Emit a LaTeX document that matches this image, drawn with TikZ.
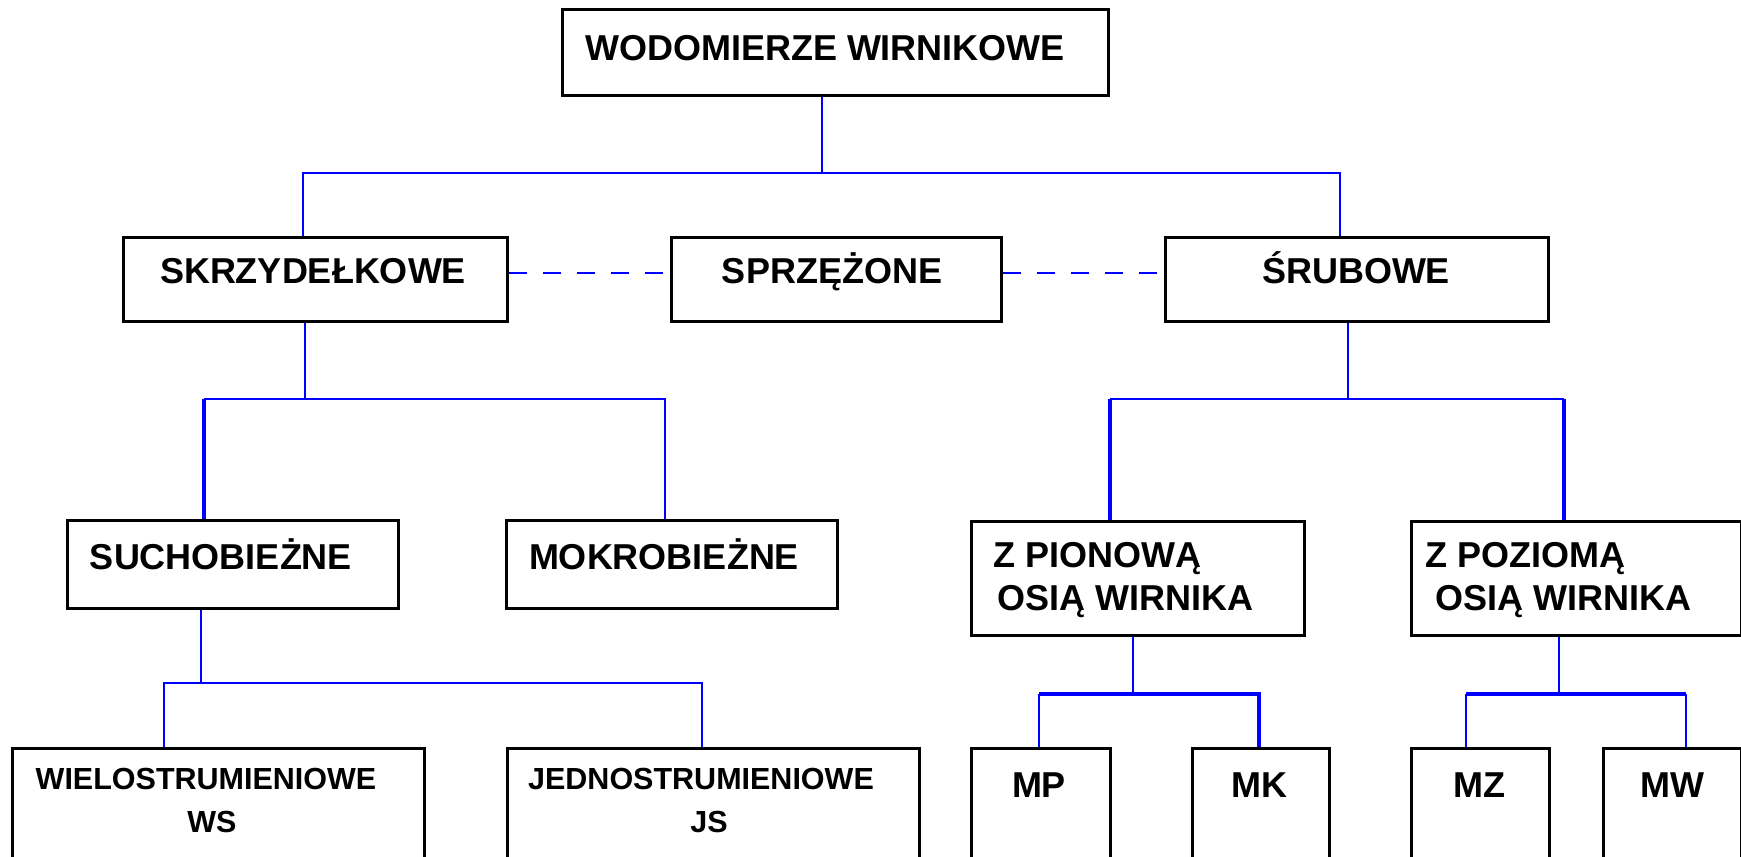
\documentclass[tikz,border=0pt]{standalone}
\usepackage{fontspec}
\setmainfont{Liberation Sans}
\definecolor{lineblue}{RGB}{0,0,255}
\tikzset{
  box/.style={draw=black, line width=1.25pt, fill=white, inner sep=0pt, anchor=north west},
  lbl/.style={inner sep=0pt, anchor=base, font=\fontsize{18pt}{21pt}\selectfont\bfseries},
  lblw/.style={inner sep=0pt, anchor=base west, font=\fontsize{18pt}{21pt}\selectfont\bfseries},
  slbl/.style={inner sep=0pt, anchor=base, font=\fontsize{15.25pt}{18pt}\selectfont\bfseries},
  conn/.style={draw=lineblue, line width=1.1pt},
  heavy/.style={draw=lineblue, line width=2pt},
  dashconn/.style={draw=lineblue, line width=1.1pt, dash pattern=on 9pt off 8pt},
}
\begin{document}
\begin{tikzpicture}[x=0.5pt, y=-0.5pt]
\useasboundingbox (0,0) rectangle (1741,857);
\clip (0,0) rectangle (1741,857);
% boxes
\node[box, minimum width=273pt, minimum height=43pt] (T) at (561,8) {};
\node[box, minimum width=192pt, minimum height=42pt] (SKR) at (122,236) {};
\node[box, minimum width=165pt, minimum height=42pt] (SPR) at (670,236) {};
\node[box, minimum width=191.5pt, minimum height=42pt] (SRU) at (1164,236) {};
\node[box, minimum width=165.5pt, minimum height=44pt] (SUCH) at (66,519) {};
\node[box, minimum width=165.5pt, minimum height=44pt] (MOK) at (505,519) {};
\node[box, minimum width=166.5pt, minimum height=57pt] (ZPION) at (970,520) {};
\node[box, minimum width=165pt, minimum height=57pt] (ZPOZ) at (1410,520) {};
\node[box, minimum width=206pt, minimum height=70pt] (WIEL) at (11,747) {};
\node[box, minimum width=206pt, minimum height=70pt] (JEDN) at (506,747) {};
\node[box, minimum width=69.5pt, minimum height=70pt] (MP) at (970,747) {};
\node[box, minimum width=68.5pt, minimum height=70pt] (MK) at (1191,747) {};
\node[box, minimum width=69pt, minimum height=70pt] (MZ) at (1410,747) {};
\node[box, minimum width=69pt, minimum height=70pt] (MW) at (1602,747) {};
% labels
\node[lbl] (Tt) at (825,60) {WODOMIERZE WIRNIKOWE};
\node[lbl] (SKRt) at (313,283) {SKRZYDEŁKOWE};
\node[lbl] (SPRt) at (832,283) {SPRZĘŻONE};
\node[lbl] (SRUt) at (1356,283) {ŚRUBOWE};
\node[lbl] (SUCHt) at (221,569) {SUCHOBIEŻNE};
\node[lbl] (MOKt) at (664,569) {MOKROBIEŻNE};
\node[lblw] (ZPIONa) at (993,567) {Z PIONOWĄ};
\node[lblw] (ZPIONb) at (997,610) {OSIĄ WIRNIKA};
\node[lblw] (ZPOZa) at (1425,567) {Z POZIOMĄ};
\node[lblw] (ZPOZb) at (1435,610) {OSIĄ WIRNIKA};
\node[slbl] (WIELa) at (206,789) {WIELOSTRUMIENIOWE};
\node[slbl] (WIELb) at (212,832) {WS};
\node[slbl] (JEDNa) at (701,789) {JEDNOSTRUMIENIOWE};
\node[slbl] (JEDNb) at (709,832) {JS};
\node[lbl] (MPt) at (1039,797) {MP};
\node[lbl] (MKt) at (1259,797) {MK};
\node[lbl] (MZt) at (1479,797) {MZ};
\node[lbl] (MWt) at (1672,797) {MW};
% junction coordinates
\coordinate (a0) at (822,173); \coordinate (a1) at (303,173); \coordinate (a2) at (1340,173);
\coordinate (b0) at (305,399); \coordinate (b1) at (204,399); \coordinate (b2) at (665,399);
\coordinate (c0) at (201,683); \coordinate (c1) at (164,683); \coordinate (c2) at (702,683);
\coordinate (d0) at (1348,399); \coordinate (d1) at (1110,399); \coordinate (d2) at (1564,399);
\coordinate (e0) at (1133,694); \coordinate (e1) at (1039,694); \coordinate (e2) at (1259,694);
\coordinate (f0) at (1559,694); \coordinate (f1) at (1466,694); \coordinate (f2) at (1686,694);
\coordinate (g) at (0,273);
% connectors
\draw[conn] (a0 |- T.south) -- (a0);
\draw[conn] (a1 |- SKR.north) -- (a1) -- (a2) -- (a2 |- SRU.north);
\draw[conn] (b0 |- SKR.south) -- (b0);
\draw[conn] (b1) -- (b2) -- (b2 |- MOK.north);
\draw[heavy] (b1) -- (b1 |- SUCH.north);
\draw[conn] (c0 |- SUCH.south) -- (c0);
\draw[conn] (c1 |- WIEL.north) -- (c1) -- (c2) -- (c2 |- JEDN.north);
\draw[conn] (d0 |- SRU.south) -- (d0);
\draw[conn] (d1) -- (d2);
\draw[heavy] (d1) -- (d1 |- ZPION.north);
\draw[heavy] (d2) -- (d2 |- ZPOZ.north);
\draw[conn] (e0 |- ZPION.south) -- (e0);
\draw[heavy] (e1) -- (e2) -- (e2 |- MK.north);
\draw[conn] (e1) -- (e1 |- MP.north);
\draw[conn] (f0 |- ZPOZ.south) -- (f0);
\draw[heavy] (f1) -- (f2);
\draw[conn] (f1) -- (f1 |- MZ.north);
\draw[conn] (f2) -- (f2 |- MW.north);
\draw[dashconn] (SKR.east |- g) -- (SPR.west |- g);
\draw[dashconn] (SPR.east |- g) -- (SRU.west |- g);
\end{tikzpicture}
\end{document}
